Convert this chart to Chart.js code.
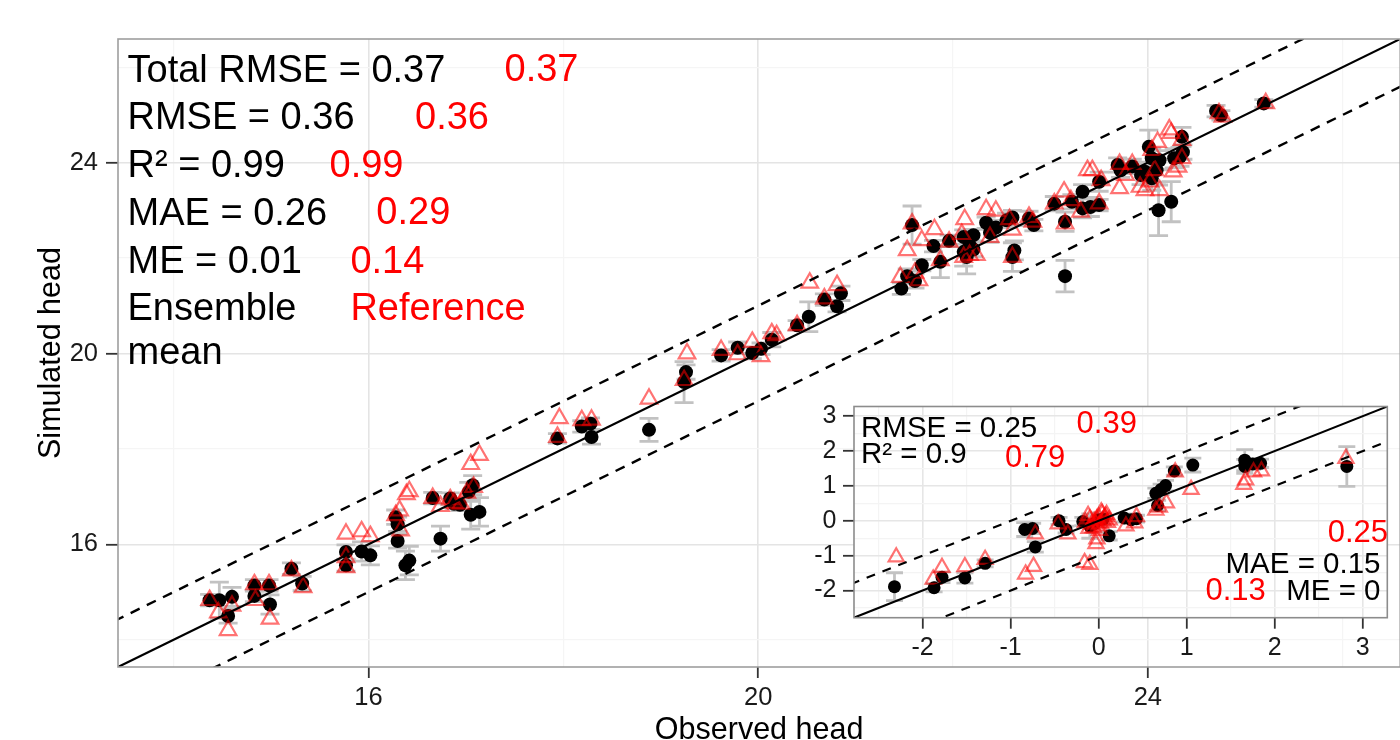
<!DOCTYPE html>
<html>
<head>
<meta charset="utf-8">
<title>Observed vs simulated head</title>
<script src="https://cdn.jsdelivr.net/npm/chart.js@4.4.1/dist/chart.umd.min.js"></script>
<style>
  html, body { margin: 0; padding: 0; background: #fff; width: 1400px; height: 740px; overflow: hidden; }
  #mainBox { position: absolute; left: 0; top: 0; }
  #insetBox { position: absolute; left: 800px; top: 385px; }
</style>
</head>
<body>
<div id="mainBox"><canvas id="mainChart" width="1412" height="740"></canvas></div>
<div id="insetBox"><canvas id="insetChart" width="600" height="290"></canvas></div>
<script>
// ---------- main panel: ensemble mean (black) with spread, reference run (red) ----------
const ensembleObs = [
  14.37, 14.47, 14.60, 14.56, 14.83, 14.83, 14.98, 14.99, 15.21, 15.32, 15.77, 15.77, 15.93, 16.02,
  16.28, 16.30, 16.30, 16.38, 16.42, 16.66, 16.74, 16.84, 16.94, 17.03, 17.07, 17.05, 17.14, 16.88,
  17.94, 18.19, 18.28, 18.29, 18.88, 19.24, 19.26, 19.62, 19.79, 19.94, 20.03, 20.14, 20.40, 20.52,
  20.68, 20.81, 20.85,
  21.47, 21.53, 21.61, 21.68, 21.58, 21.80, 21.87, 21.96, 22.11, 22.21, 22.11, 22.14, 22.17, 22.21,
  22.34, 22.38, 22.44, 22.55, 22.61, 22.63, 22.61, 22.78, 22.83, 23.04, 23.15, 23.15, 23.22, 23.33,
  23.41, 23.50, 23.33,
  23.50, 23.69, 23.72, 23.84, 23.93, 23.97, 24.01, 24.04, 24.12, 24.09, 24.04, 24.27, 24.36, 24.35,
  24.11, 24.24, 24.70, 24.75, 25.19, 24.33
];
const ensembleSim = [
  14.83, 14.83, 14.90, 14.50, 15.14, 14.92, 15.14, 14.74, 15.49, 15.18, 15.84, 15.56, 15.85, 15.77,
  16.57, 16.42, 16.07, 15.56, 15.66, 16.97, 16.12, 16.96, 16.83, 17.10, 17.24, 16.62, 16.68, 16.85,
  18.22, 18.47, 18.53, 18.25, 18.40, 19.40, 19.61, 19.96, 20.12, 20.01, 20.10, 20.29, 20.59, 20.77,
  21.13, 20.99, 21.26,
  21.36, 21.62, 21.52, 21.85, 22.69, 22.25, 21.92, 22.36, 22.44, 22.48, 22.13, 22.02, 22.27, 22.18,
  22.74, 22.53, 22.64, 22.79, 22.85, 22.16, 22.02, 22.83, 22.69, 23.14, 21.62, 22.76, 23.18, 23.04,
  23.07, 23.11, 23.39,
  23.60, 23.95, 23.84, 23.92, 23.74, 23.81, 24.33, 24.09, 24.05, 23.84, 23.67, 24.09, 24.22, 24.54,
  23.00, 23.18, 25.08, 24.99, 25.24, 24.12
];
const ensembleSpread = [
  0.12, 0.38, 0.20, 0.15, 0.12, 0.12, 0.12, 0.20, 0.12, 0.15, 0.15, 0.12, 0.20, 0.20,
  0.15, 0.15, 0.15, 0.30, 0.30, 0.12, 0.26, 0.12, 0.12, 0.20, 0.20, 0.30, 0.30, 0.10,
  0.10, 0.12, 0.12, 0.15, 0.24, 0.43, 0.15, 0.12, 0.12, 0.12, 0.12, 0.15, 0.10, 0.31,
  0.12, 0.12, 0.15,
  0.12, 0.15, 0.15, 0.12, 0.40, 0.12, 0.33, 0.12, 0.15, 0.12, 0.30, 0.35, 0.12, 0.15,
  0.12, 0.20, 0.15, 0.15, 0.15, 0.20, 0.30, 0.15, 0.12, 0.15, 0.33, 0.20, 0.15, 0.20,
  0.20, 0.12, 0.15,
  0.20, 0.15, 0.15, 0.15, 0.20, 0.20, 0.35, 0.20, 0.20, 0.25, 0.25, 0.20, 0.15, 0.20,
  0.53, 0.42, 0.12, 0.10, 0.08, 0.20
];
const referenceObs = [
  14.37, 14.46, 14.60, 14.56, 14.83, 14.84, 14.98, 14.99, 15.21, 15.33, 15.77, 15.77, 15.77, 15.93,
  16.02, 16.28, 16.32, 16.33, 16.39, 16.42, 16.66, 16.74, 16.84, 16.88, 16.95, 17.01, 17.05, 17.14, 17.08,
  17.94, 17.96, 18.19, 18.29, 18.88, 19.24, 19.27, 19.62, 19.79, 19.94, 20.03, 20.14, 20.19, 20.40,
  20.53, 20.68, 20.81,
  21.46, 21.61, 21.65, 21.58, 21.53, 21.68, 21.81, 21.87, 21.96, 22.12, 22.09, 22.11, 22.17, 22.24,
  22.34, 22.44, 22.38, 22.58, 22.61, 22.61, 22.78, 22.82, 23.04, 23.14, 23.15, 23.21, 23.31,
  23.38, 23.43, 23.52, 23.50, 23.71, 23.84, 23.71, 23.77, 23.92, 23.97, 24.02, 24.12, 24.10, 24.22,
  24.24, 24.35, 24.04, 24.26, 24.31, 24.35, 24.73, 24.77, 25.21, 24.07
];
const referenceSim = [
  14.83, 14.57, 14.71, 14.20, 15.16, 14.83, 15.16, 14.44, 15.45, 15.10, 16.22, 15.73, 15.52, 16.27,
  16.17, 16.61, 16.71, 16.29, 17.05, 17.11, 16.97, 16.80, 16.94, 16.87, 16.85, 17.08, 17.68, 17.87, 17.20,
  18.25, 18.64, 18.60, 18.61, 19.05, 19.44, 20.00, 20.07, 19.98, 20.24, 19.94, 20.42, 20.38, 20.59,
  21.48, 21.15, 21.43,
  21.60, 21.69, 21.53, 22.72, 22.16, 22.37, 22.60, 21.95, 22.34, 22.81, 22.50, 22.02, 22.06, 22.06,
  23.02, 22.99, 22.44, 22.81, 22.59, 22.02, 22.86, 22.76, 23.14, 23.39, 22.72, 23.21, 22.97,
  23.84, 23.84, 23.63, 23.14, 23.97, 23.97, 23.46, 23.74, 23.49, 23.42, 23.60, 23.42, 24.43, 24.69,
  24.62, 24.47, 24.26, 23.81, 23.91, 24.09, 25.03, 24.96, 25.24, 23.84
];
const mainRange = [13.43, 26.59];
const mainMajorTicks = [16, 20, 24];
const mainMinorTicks = [14, 18, 22, 26];

// ---------- inset panel ----------
const insetEnsembleObs = [
  -2.32, -1.87, -1.78, -1.52, -1.29, -0.84, -0.75, -0.72, -0.45, -0.37, -0.18, -0.10, 0.00, 0.12,
  0.29, 0.37, 0.43, 0.65, 0.71, 0.76, 0.67, 0.86, 1.07, 1.66, 1.66, 1.75, 1.84, 2.82, -0.05, 0.05
];
const insetEnsembleSim = [
  -1.89, -1.92, -1.62, -1.64, -1.22, -0.25, -0.22, -0.75, 0.00, -0.25, -0.02, -0.15, 0.03, -0.43,
  0.08, 0.03, 0.06, 0.79, 0.90, 1.01, 0.44, 1.43, 1.60, 1.74, 1.56, 1.63, 1.65, 1.56, -0.08, 0.05
];
const insetEnsembleSpread = [
  0.40, 0.12, 0.15, 0.15, 0.10, 0.20, 0.15, 0.15, 0.10, 0.10, 0.12, 0.35, 0.20, 0.12,
  0.12, 0.10, 0.10, 0.15, 0.15, 0.15, 0.15, 0.12, 0.20, 0.30, 0.20, 0.15, 0.12, 0.57, 0.25, 0.15
];
const insetReferenceObs = [
  -2.30, -1.88, -1.78, -1.52, -1.29, -0.83, -0.74, -0.72, -0.46, -0.35, -0.16, -0.10, -0.03, -0.02,
  0.31, 0.41, 0.43, 0.65, 0.69, 0.77, 0.87, 1.05, 1.65, 1.67, 1.76, 1.85, 2.81,
  -0.10, -0.05, 0.00, 0.05, 0.02, -0.08, 0.08, 0.10, -0.12, 0.00, 0.04, -0.02, 0.06, -0.15, 0.12,
  -0.06, 0.03, 0.09, -0.11, 0.01
];
const insetReferenceSim = [
  -1.04, -1.68, -1.34, -1.32, -1.11, -1.53, -1.31, -0.38, -0.09, -0.38, -1.20, -1.25, -0.66, -0.52,
  -0.15, -0.06, 0.12, 0.30, 0.39, 0.51, 1.40, 0.90, 1.04, 1.17, 1.40, 1.43, 1.79,
  0.05, -0.02, 0.10, 0.00, -0.08, -0.10, 0.12, -0.05, 0.15, -0.15, 0.20, 0.05, 0.06, -0.05, 0.02,
  -0.20, 0.25, 0.18, -0.22, -0.28
];
const insetRange = [-2.78, 3.28];
const insetMajorTicks = [-2, -1, 0, 1, 2, 3];
const insetMinorTicks = [-2.5, -1.5, -0.5, 0.5, 1.5, 2.5];

// 1:1 line and the +/-1 band are drawn between these abscissae
const lineEnds = [-10, 40];
const bandOffset = 1;

// ---------- helpers ----------
const FONT = '"Liberation Sans", Arial, Helvetica, sans-serif';
const toPoints = (xs, ys) => xs.map((v, i) => ({ x: v, y: ys[i] }));
const sortedTicks = (major, minor) => major.concat(minor).sort((a, b) => a - b);

function diagonal(offset, dash, width) {
  return {
    type: 'scatter',
    data: lineEnds.map(v => ({ x: v, y: v + offset })),
    showLine: true,
    borderColor: '#000',
    borderWidth: width,
    borderDash: dash,
    pointRadius: 0,
    order: 0
  };
}

// vertical spread bars with caps, drawn under the markers
const spreadBars = {
  id: 'spreadBars',
  beforeDatasetsDraw(chart) {
    const { ctx, chartArea: a, scales: { x, y } } = chart;
    const cap = chart.options.plugins.spreadBars.cap;
    ctx.save();
    ctx.beginPath();
    ctx.rect(a.left, a.top, a.right - a.left, a.bottom - a.top);
    ctx.clip();
    ctx.strokeStyle = '#c2c2c2';
    ctx.lineWidth = 2.8;
    chart.data.datasets.forEach(ds => {
      if (!ds.spread) return;
      ds.data.forEach((p, i) => {
        const px = x.getPixelForValue(p.x);
        const top = y.getPixelForValue(p.y + ds.spread[i]);
        const bot = y.getPixelForValue(p.y - ds.spread[i]);
        ctx.beginPath();
        ctx.moveTo(px, top); ctx.lineTo(px, bot);
        ctx.moveTo(px - cap / 2, top); ctx.lineTo(px + cap / 2, top);
        ctx.moveTo(px - cap / 2, bot); ctx.lineTo(px + cap / 2, bot);
        ctx.stroke();
      });
    });
    ctx.restore();
  }
};

// panel background and frame
const panelFrame = {
  id: 'panelFrame',
  beforeDraw(chart) {
    const { ctx, chartArea: a } = chart;
    ctx.save();
    ctx.fillStyle = '#ffffff';
    ctx.fillRect(a.left, a.top, a.right - a.left, a.bottom - a.top);
    ctx.restore();
  },
  afterDatasetsDraw(chart) {
    const { ctx, chartArea: a } = chart;
    ctx.save();
    ctx.strokeStyle = chart.options.plugins.panelFrame.color;
    ctx.lineWidth = 1.6;
    ctx.strokeRect(a.left, a.top, a.right - a.left, a.bottom - a.top);
    ctx.restore();
  }
};

// statistics written inside the panels (page coordinates, shifted by the canvas offset)
const statLabels = {
  id: 'statLabels',
  afterDraw(chart) {
    const o = chart.options.plugins.statLabels;
    const ctx = chart.ctx;
    ctx.save();
    o.items.forEach(t => {
      ctx.font = t.size + 'px ' + FONT;
      ctx.fillStyle = t.color;
      ctx.textAlign = t.align || 'left';
      ctx.textBaseline = 'alphabetic';
      ctx.fillText(t.text, t.x - o.dx, t.y - o.dy);
    });
    ctx.restore();
  }
};

function axis(range, major, minor, opts) {
  return {
    type: 'linear',
    min: range[0],
    max: range[1],
    afterBuildTicks: s => { s.ticks = sortedTicks(major, minor).map(v => ({ value: v })); },
    afterFit: opts.fit,
    border: { display: false },
    grid: {
      color: c => major.includes(c.tick && c.tick.value) ? opts.majorGrid : opts.minorGrid,
      lineWidth: c => major.includes(c.tick && c.tick.value) ? 1.6 : 1.2,
      tickColor: c => major.includes(c.tick && c.tick.value) ? '#333333' : 'rgba(0,0,0,0)',
      tickWidth: 1.8,
      tickLength: opts.tickLength,
      drawTicks: true
    },
    ticks: {
      autoSkip: false,
      maxRotation: 0,
      padding: opts.pad,
      color: '#1a1a1a',
      font: { family: FONT, size: opts.tickSize },
      callback: v => major.includes(v) ? String(v) : ''
    },
    title: opts.title || { display: false }
  };
}

// ---------- main chart ----------
new Chart(document.getElementById('mainChart'), {
  type: 'scatter',
  data: {
    datasets: [
      diagonal(0, [], 2.2),
      diagonal(bandOffset, [10, 8], 2.4),
      diagonal(-bandOffset, [10, 8], 2.4),
      {
        label: 'Reference',
        data: toPoints(referenceObs, referenceSim),
        pointStyle: 'triangle',
        pointRadius: 9.6,
        backgroundColor: 'rgba(0,0,0,0)',
        borderColor: 'rgba(255,0,0,0.55)',
        borderWidth: 2.2,
        order: 1
      },
      {
        label: 'Ensemble mean',
        data: toPoints(ensembleObs, ensembleSim),
        spread: ensembleSpread,
        pointStyle: 'circle',
        pointRadius: 7,
        backgroundColor: '#000',
        borderWidth: 0,
        order: 2
      }
    ]
  },
  options: {
    responsive: false,
    devicePixelRatio: 1,
    animation: false,
    events: [],
    layout: { padding: { top: 39, right: 1.5, bottom: 0, left: 0 } },
    scales: {
      x: axis(mainRange, mainMajorTicks, mainMinorTicks, {
        fit: s => { s.height = 73; },
        majorGrid: '#e4e4e4', minorGrid: '#f5f5f5', tickLength: 11, pad: 5, tickSize: 25.5,
        title: { display: true, text: 'Observed head', color: '#000',
                 font: { family: FONT, size: 30.5, lineHeight: 0.63 }, padding: 0 }
      }),
      y: axis(mainRange, mainMajorTicks, mainMinorTicks, {
        fit: s => { s.width = 118; },
        majorGrid: '#e4e4e4', minorGrid: '#f5f5f5', tickLength: 12, pad: 8, tickSize: 25.5,
        title: { display: true, text: 'Simulated head', color: '#000',
                 font: { family: FONT, size: 30.5 }, padding: { top: 33.4, bottom: 0 } }
      })
    },
    plugins: {
      legend: { display: false },
      tooltip: { enabled: false },
      spreadBars: { cap: 19 },
      panelFrame: { color: '#9e9e9e' },
      statLabels: {
        dx: 0, dy: 0,
        items: [
          { text: 'Total RMSE = 0.37', x: 127.5, y: 81.7, size: 38, color: '#000' },
          { text: '0.37', x: 504.5, y: 80.7, size: 38, color: '#ff0000' },
          { text: 'RMSE = 0.36', x: 127.5, y: 129.3, size: 38, color: '#000' },
          { text: '0.36', x: 415, y: 129.3, size: 38, color: '#ff0000' },
          { text: 'R\u00b2 = 0.99', x: 127.5, y: 176.7, size: 38, color: '#000' },
          { text: '0.99', x: 329.5, y: 176.7, size: 38, color: '#ff0000' },
          { text: 'MAE = 0.26', x: 127.5, y: 224.7, size: 38, color: '#000' },
          { text: '0.29', x: 376.3, y: 224.2, size: 38, color: '#ff0000' },
          { text: 'ME = 0.01', x: 127.5, y: 272.8, size: 38, color: '#000' },
          { text: '0.14', x: 350.4, y: 273.3, size: 38, color: '#ff0000' },
          { text: 'Ensemble', x: 127.5, y: 320, size: 38, color: '#000' },
          { text: 'Reference', x: 350.4, y: 320, size: 38, color: '#ff0000' },
          { text: 'mean', x: 127.5, y: 364, size: 38, color: '#000' }
        ]
      }
    }
  },
  plugins: [spreadBars, panelFrame, statLabels]
});

// ---------- inset chart ----------
new Chart(document.getElementById('insetChart'), {
  type: 'scatter',
  data: {
    datasets: [
      diagonal(0, [], 2.1),
      diagonal(bandOffset, [9, 8], 2.2),
      diagonal(-bandOffset, [9, 8], 2.2),
      {
        label: 'Reference',
        data: toPoints(insetReferenceObs, insetReferenceSim),
        pointStyle: 'triangle',
        pointRadius: 8.8,
        backgroundColor: 'rgba(0,0,0,0)',
        borderColor: 'rgba(255,0,0,0.55)',
        borderWidth: 2.2,
        order: 1
      },
      {
        label: 'Ensemble mean',
        data: toPoints(insetEnsembleObs, insetEnsembleSim),
        spread: insetEnsembleSpread,
        pointStyle: 'circle',
        pointRadius: 6.5,
        backgroundColor: '#000',
        borderWidth: 0,
        order: 2
      }
    ]
  },
  options: {
    responsive: false,
    devicePixelRatio: 1,
    animation: false,
    events: [],
    layout: { padding: { top: 10.3, right: 12.7, bottom: 0, left: 0 } },
    scales: {
      x: axis(insetRange, insetMajorTicks, insetMinorTicks, {
        fit: s => { s.height = 57.3; },
        majorGrid: '#e6e6e6', minorGrid: '#f4f4f4', tickLength: 11, pad: 4, tickSize: 25
      }),
      y: axis(insetRange, insetMajorTicks, insetMinorTicks, {
        fit: s => { s.width = 54; },
        majorGrid: '#e6e6e6', minorGrid: '#f4f4f4', tickLength: 11, pad: 6.5, tickSize: 25
      })
    },
    plugins: {
      legend: { display: false },
      tooltip: { enabled: false },
      spreadBars: { cap: 17 },
      panelFrame: { color: '#8c8c8c' },
      statLabels: {
        dx: 800, dy: 385,
        items: [
          { text: 'RMSE = 0.25', x: 861, y: 436.7, size: 29.5, color: '#000' },
          { text: '0.39', x: 1076.6, y: 433.3, size: 31, color: '#ff0000' },
          { text: 'R\u00b2 = 0.9', x: 861, y: 463.3, size: 29.5, color: '#000' },
          { text: '0.79', x: 1005, y: 466.7, size: 31, color: '#ff0000' },
          { text: '0.25', x: 1388, y: 541.7, size: 31, color: '#ff0000', align: 'right' },
          { text: 'MAE = 0.15', x: 1380.5, y: 573.3, size: 29.5, color: '#000', align: 'right' },
          { text: '0.13', x: 1205.4, y: 600, size: 31, color: '#ff0000' },
          { text: 'ME = 0', x: 1380.5, y: 600, size: 29.5, color: '#000', align: 'right' }
        ]
      }
    }
  },
  plugins: [spreadBars, panelFrame, statLabels]
});
</script>
</body>
</html>
